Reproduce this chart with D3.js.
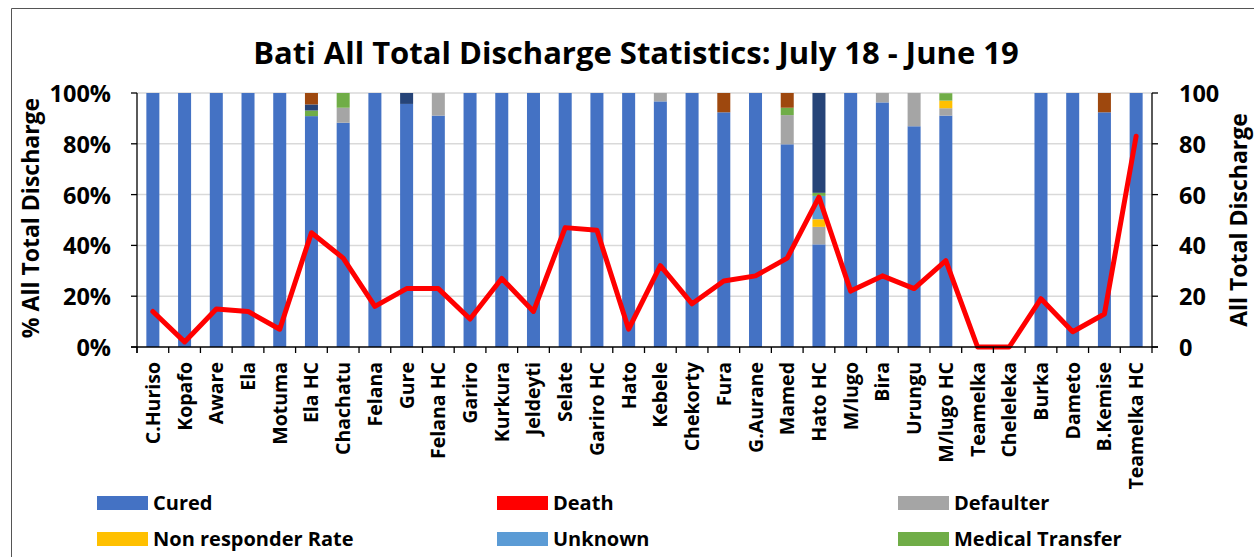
<!DOCTYPE html>
<html><head><meta charset="utf-8">
<script src="https://cdn.jsdelivr.net/npm/d3@7"></script>
<style>body{margin:0;background:#fff}svg{display:block;font-family:"Open Sans","Liberation Sans",sans-serif;font-weight:bold}</style>
</head><body>
<svg id="c" width="1254" height="557"></svg>
<script>
const categories = ["C.Huriso","Kopafo","Aware","Ela","Motuma","Ela HC","Chachatu","Felana","Gure","Felana HC","Gariro","Kurkura","Jeldeyti","Selate","Gariro HC","Hato","Kebele","Chekorty","Fura","G.Aurane","Mamed","Hato HC","M/lugo","Bira","Urungu","M/lugo HC","Teamelka","Cheleleka","Burka","Dameto","B.Kemise","Teamelka HC"];
const cured        = [100,100,100,100,100,90.9,88.3,100,95.7,91.1,100,100,100,100,100,100,96.7,100,92.4,100,79.8,40.4,100,96.3,86.9,91.1,0,0,100,100,92.4,100];
const defaulter    = [0,0,0,0,0,0,5.9,0,0,8.9,0,0,0,0,0,0,3.3,0,0,0,11.5,6.9,0,3.7,13.1,2.9,0,0,0,0,0,0];
const nonResponder = [0,0,0,0,0,0,0,0,0,0,0,0,0,0,0,0,0,0,0,0,0,3.0,0,0,0,3.0,0,0,0,0,0,0];
const unknown      = [0,0,0,0,0,0,0,0,0,0,0,0,0,0,0,0,0,0,0,0,0,9.2,0,0,0,0,0,0,0,0,0,0];
const medTransfer  = [0,0,0,0,0,2.2,5.8,0,0,0,0,0,0,0,0,0,0,0,0,0,2.9,1.2,0,0,0,2.9,0,0,0,0,0,0];
const otherA       = [0,0,0,0,0,2.4,0,0,4.3,0,0,0,0,0,0,0,0,0,0,0,0,39.3,0,0,0,0,0,0,0,0,0,0];
const otherB       = [0,0,0,0,0,4.5,0,0,0,0,0,0,0,0,0,0,0,0,7.6,0,5.8,0,0,0,0,0,0,0,0,0,7.6,0];
const deaths       = [14,2,15,14,7,45,35,16,23,23,11,27,14,47,46,7,32,17,26,28,35,59,22,28,23,34,0,0,19,6,13,83];
const pctTicks = [0,20,40,60,80,100];

const seriesKeys = ["Cured","Defaulter","Non responder Rate","Unknown","Medical Transfer","Other A","Other B"];
const seriesData = [cured,defaulter,nonResponder,unknown,medTransfer,otherA,otherB];
const colors = {"Cured":"#4472C4","Defaulter":"#A5A5A5","Non responder Rate":"#FFC000","Unknown":"#5B9BD5","Medical Transfer":"#70AD47","Other A":"#264478","Other B":"#9E480E","Death":"#FF0000"};

const svg = d3.select("#c");
const L = 137, R = 1152, T = 93, B = 347;
const x = d3.scaleBand().domain(categories).range([L,R]).paddingInner(0.59).paddingOuter(0.295);
const xb = d3.scaleBand().domain(categories).range([L,R]);
const y = d3.scaleLinear().domain([0,100]).range([B,T]);
const y2 = d3.scaleLinear().domain([0,100]).range([B,T]);

// border
svg.append("path").attr("d",`M11.5,560 V8.5 H1260`).attr("fill","none").attr("stroke","#555").attr("stroke-width",1);

// title
svg.append("text").attr("x",636).attr("y",64).attr("text-anchor","middle").attr("font-size",31).text("Bati All Total Discharge Statistics: July 18 - June 19");

// grid
svg.append("g").selectAll("line").data(pctTicks.filter(d=>d>0)).join("line")
  .attr("x1",L).attr("x2",R).attr("y1",d=>y(d)).attr("y2",d=>y(d)).attr("stroke","#D9D9D9").attr("stroke-width",1.5);

// stacked bars
const rows = categories.map((c,i)=>{const o={cat:c}; seriesKeys.forEach((k,j)=>o[k]=seriesData[j][i]); return o;});
const stack = d3.stack().keys(seriesKeys)(rows);
svg.append("g").selectAll("g").data(stack).join("g").attr("fill",d=>colors[d.key])
  .selectAll("rect").data(d=>d).join("rect")
  .attr("x",d=>x(d.data.cat)).attr("width",x.bandwidth())
  .attr("y",d=>y(d[1])).attr("height",d=>Math.max(0,y(d[0])-y(d[1])));

// death line
svg.append("path").datum(deaths)
  .attr("d",d3.line().x((d,i)=>xb(categories[i])+xb.bandwidth()/2).y(d=>y2(d)))
  .attr("fill","none").attr("stroke","#FF0000").attr("stroke-width",5).attr("stroke-linejoin","round").attr("stroke-linecap","round");

// axes
const ax = svg.append("g").attr("stroke","#000").attr("stroke-width",1.3);
ax.append("line").attr("x1",L).attr("x2",L).attr("y1",T).attr("y2",B+6);
ax.append("line").attr("x1",R).attr("x2",R).attr("y1",T).attr("y2",B+6);
ax.append("line").attr("x1",L-6).attr("x2",R+6).attr("y1",B).attr("y2",B);
pctTicks.forEach(t=>{
  ax.append("line").attr("x1",L-6).attr("x2",L).attr("y1",y(t)).attr("y2",y(t));
  ax.append("line").attr("x1",R).attr("x2",R+6).attr("y1",y2(t)).attr("y2",y2(t));
});
categories.forEach(c=>{
  ax.append("line").attr("x1",xb(c)).attr("x2",xb(c)).attr("y1",B).attr("y2",B+6);
});

// tick labels
svg.append("g").selectAll("text").data(pctTicks).join("text")
  .attr("x",111).attr("y",d=>y(d)+9).attr("text-anchor","end").attr("font-size",23.5).text(d=>d+"%");
svg.append("g").selectAll("text").data(pctTicks).join("text")
  .attr("x",1179).attr("y",d=>y2(d)+9).attr("text-anchor","start").attr("font-size",23.5).text(d=>d);

// category labels
svg.append("g").selectAll("text").data(categories).join("text")
  .attr("transform",d=>`translate(${xb(d)+xb.bandwidth()/2+7},362) rotate(-90)`)
  .attr("text-anchor","end").attr("font-size",19.5).text(d=>d);

// axis titles
svg.append("text").attr("transform","translate(39,218) rotate(-90)").attr("text-anchor","middle").attr("font-size",23).text("% All Total Discharge");
svg.append("text").attr("transform","translate(1247,220) rotate(-90)").attr("text-anchor","middle").attr("font-size",23).text("All Total Discharge");

// legend
const legend = [
  {k:"Cured",x:97,y:496},{k:"Death",x:497,y:496},{k:"Defaulter",x:898,y:496},
  {k:"Non responder Rate",x:97,y:532},{k:"Unknown",x:497,y:532},{k:"Medical Transfer",x:898,y:532}];
const lg = svg.append("g").selectAll("g").data(legend).join("g").attr("transform",d=>`translate(${d.x},${d.y})`);
lg.append("rect").attr("width",51).attr("height",14).attr("fill",d=>colors[d.k]);
lg.append("text").attr("x",56).attr("y",14).attr("font-size",20).text(d=>d.k);
</script>
</body></html>
